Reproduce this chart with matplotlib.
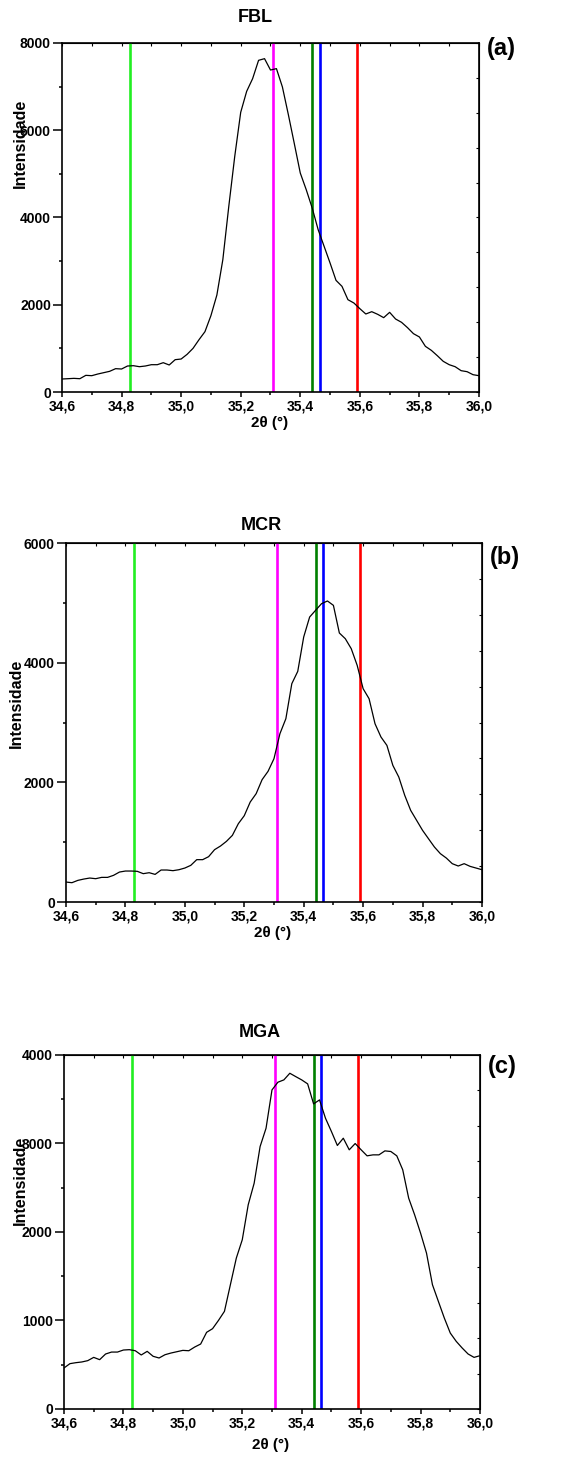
import numpy as np
import matplotlib
matplotlib.use("Agg")
from matplotlib import pyplot as plt
from matplotlib.ticker import MultipleLocator, FuncFormatter

plt.rcParams["font.family"] = ["Liberation Sans", "DejaVu Sans"]
plt.rcParams["font.weight"] = "bold"

# 2theta scan, 0.02 deg step
two_theta = np.linspace(34.6, 36.0, 71)

fbl = [298, 305, 313, 305, 382, 374, 412, 443, 474, 535, 527, 596, 603, 580, 596,
       626, 626, 672, 619, 741, 756, 863, 1001, 1199, 1383, 1750, 2223, 3033, 4255,
       5401, 6410, 6891, 7182, 7602, 7640, 7380, 7411, 6991, 6356, 5692, 5019, 4637,
       4217, 3721, 3339, 2957, 2559, 2422, 2116, 2040, 1910, 1788, 1841, 1780, 1704,
       1826, 1673, 1597, 1475, 1337, 1261, 1047, 955, 833, 703, 626, 580, 489, 466,
       397, 374]

mcr = [334, 323, 362, 384, 401, 390, 412, 412, 446, 501, 518, 518, 513, 474, 490,
       462, 535, 535, 524, 540, 568, 613, 708, 708, 758, 875, 936, 1014, 1114, 1309,
       1443, 1671, 1811, 2045, 2184, 2396, 2813, 3064, 3649, 3855, 4429, 4763, 4875,
       4986, 5031, 4958, 4496, 4401, 4234, 3955, 3565, 3398, 2980, 2758, 2618, 2284,
       2089, 1783, 1532, 1365, 1198, 1058, 919, 808, 735, 641, 602, 641, 596, 568, 540]

mga = [463, 512, 523, 531, 546, 583, 557, 621, 643, 643, 666, 670, 658, 610, 651,
       595, 576, 613, 632, 647, 662, 658, 700, 734, 866, 907, 1001, 1103, 1404, 1705,
       1912, 2307, 2551, 2965, 3172, 3605, 3692, 3718, 3793, 3755, 3718, 3673, 3447,
       3492, 3285, 3135, 2977, 3059, 2928, 2999, 2928, 2860, 2871, 2871, 2916, 2909,
       2860, 2702, 2382, 2194, 1987, 1761, 1404, 1215, 1027, 858, 764, 689, 621, 583,
       602]

# reference peak positions
ref_pos = [34.83, 35.31, 35.44, 35.465, 35.59]
ref_colors = ["#22ee22", "#ff00ff", "#008000", "#0000ff", "#ff0000"]

samples = ["FBL", "MCR", "MGA"]
tags = ["(a)", "(b)", "(c)"]
ymax = [8000, 6000, 4000]
ystep = [2000, 2000, 1000]

fig = plt.figure(figsize=(5.87, 14.66), dpi=100)

boxes = [[0.1056, 0.7326, 0.7104, 0.2381],
         [0.1124, 0.3847, 0.7087, 0.2449],
         [0.1090, 0.0389, 0.7087, 0.2415]]
title_xy = [(0.463, 1.072), (0.469, 1.050), (0.471, 1.062)]
ylab_xy = [(-0.0995, 0.713), (-0.119, 0.554), (-0.106, 0.647)]
tag_xy = [(1.053, 0.983), (1.055, 0.961), (1.053, 0.966)]
xlab_y = [-0.089, -0.086, -0.102]

comma = FuncFormatter(lambda v, p: f"{v:.1f}".replace(".", ","))

for i, data in enumerate([fbl, mcr, mga]):
    ax = fig.add_axes(boxes[i])
    for pos, col in zip(ref_pos, ref_colors):
        ax.axvline(pos, color=col, lw=1.9, zorder=1)
    ax.plot(two_theta, data, color="black", lw=0.9, zorder=2)

    ax.set_xlim(34.6, 36.0)
    ax.set_ylim(0, ymax[i])
    ax.xaxis.set_major_locator(MultipleLocator(0.2))
    ax.xaxis.set_minor_locator(MultipleLocator(0.1))
    ax.xaxis.set_major_formatter(comma)
    ax.yaxis.set_major_locator(MultipleLocator(ystep[i]))
    ax.yaxis.set_minor_locator(MultipleLocator(ystep[i] / 2))
    ax.tick_params(which="both", direction="out", labelsize=10, width=1.1)
    ax.tick_params(axis="x", which="major", length=3.6, pad=2)
    ax.tick_params(axis="y", which="major", length=6.5, pad=1.5)
    ax.tick_params(which="minor", length=2)
    for lab in ax.get_xticklabels() + ax.get_yticklabels():
        lab.set_fontweight("bold")
    for sp in ax.spines.values():
        sp.set_linewidth(1.2)

    top = ax.secondary_xaxis("top")
    top.set_xticks(np.arange(34.6, 36.01, 0.1))
    top.set_xticklabels([])
    top.tick_params(direction="in", length=2.5, width=0.8)

    right = ax.secondary_yaxis("right")
    right.set_yticks(np.linspace(0, ymax[i], 11))
    right.set_yticklabels([])
    right.tick_params(direction="in", length=2.5, width=0.8)

    ax.set_title(samples[i], x=title_xy[i][0], y=title_xy[i][1], va="center",
                 pad=0, fontsize=13, fontweight="bold")
    ax.set_ylabel("Intensidade", fontsize=11.5, fontweight="bold")
    ax.yaxis.set_label_coords(*ylab_xy[i])
    ax.yaxis.label.set_verticalalignment("center")
    ax.set_xlabel("2θ (°)", fontsize=11, fontweight="bold")
    ax.xaxis.set_label_coords(0.497, xlab_y[i])
    ax.xaxis.label.set_verticalalignment("center")
    ax.text(tag_xy[i][0], tag_xy[i][1], tags[i], transform=ax.transAxes,
            ha="center", va="center", fontsize=17, fontweight="bold")

fig.savefig("out.png", dpi=100)
